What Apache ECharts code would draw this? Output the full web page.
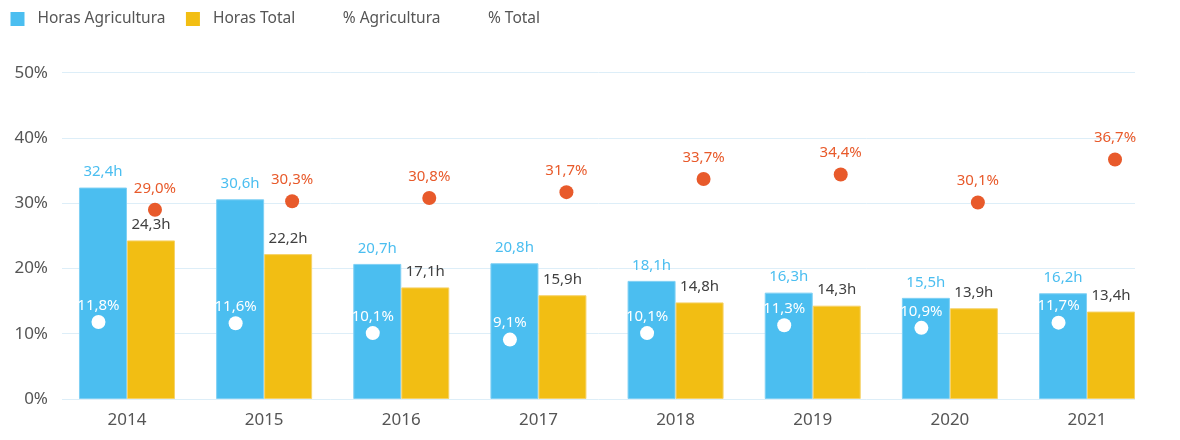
<!DOCTYPE html>
<html>
<head>
<meta charset="utf-8">
<script src="https://cdn.jsdelivr.net/npm/echarts@6/dist/echarts.min.js"></script>
<style>
html,body{margin:0;padding:0;background:#fff;}
#c{width:1180px;height:440px;}
</style>
</head>
<body>
<div id="c"></div>
<script>
const years = ['2014','2015','2016','2017','2018','2019','2020','2021'];
const horasAgricultura = [32.4, 30.6, 20.7, 20.8, 18.1, 16.3, 15.5, 16.2];
const horasTotal = [24.3, 22.2, 17.1, 15.9, 14.8, 14.3, 13.9, 13.4];
const pctAgricultura = [11.8, 11.6, 10.1, 9.1, 10.1, 11.3, 10.9, 11.7];
const pctTotal = [29.0, 30.3, 30.8, 31.7, 33.7, 34.4, 30.1, 36.7];
const yTicks = [0, 10, 20, 30, 40, 50];

const FONT = 'Noto Sans';
const BLUE = '#4BBEF0';
const YELLOW = '#F2BE13';
const ORANGE = '#E85A2B';
const GRIDC = '#DDEEF8';
const fmt1 = v => v.toFixed(1).replace('.', ',');

const chart = echarts.init(document.getElementById('c'), null, {renderer: 'canvas'});
chart.setOption({
  animation: false,
  backgroundColor: '#fff',
  textStyle: {fontFamily: FONT},
  legend: {
    left: 10.5, top: 11, padding: 0,
    itemWidth: 14, itemHeight: 14, itemGap: 20.5,
    itemStyle: {borderWidth: 0},
    textStyle: {fontFamily: FONT, fontSize: 15.5, color: '#555', padding: [0, 0, 0, 8]},
    data: [
      {name: 'Horas Agricultura', icon: 'rect'},
      {name: 'Horas Total', icon: 'rect'},
      {name: '% Agricultura', icon: 'rect', itemStyle: {opacity: 0}},
      {name: '% Total', icon: 'rect', itemStyle: {opacity: 0}}
    ]
  },
  grid: [
    {left: 62, right: 45, top: 72.7, bottom: 41},
    {left: 58.4, right: 24.4, top: 72.7, bottom: 41}
  ],
  xAxis: [
    {gridIndex: 0, type: 'category', data: years, show: false},
    {gridIndex: 1, type: 'category', data: years,
      axisLine: {show: false}, axisTick: {show: false},
      axisLabel: {fontFamily: FONT, fontSize: 17, color: '#555', margin: 13}}
  ],
  yAxis: [
    {gridIndex: 0, type: 'value', min: yTicks[0], max: yTicks[yTicks.length - 1], interval: 10,
      axisLine: {show: false}, axisTick: {show: false},
      splitLine: {show: true, lineStyle: {color: GRIDC, width: 1}},
      axisLabel: {fontFamily: FONT, fontSize: 17, color: '#555', margin: 14, formatter: v => v + '%'}},
    {gridIndex: 1, type: 'value', min: yTicks[0], max: yTicks[yTicks.length - 1], interval: 10, show: false,
      splitLine: {show: false}}
  ],
  series: [
    {name: 'Horas Agricultura', type: 'bar', xAxisIndex: 1, yAxisIndex: 1,
      data: horasAgricultura, barWidth: 48, barGap: '0%',
      itemStyle: {color: BLUE, borderColor: '#7fd0f4', borderWidth: 1},
      label: {show: true, position: 'top', distance: 8, color: BLUE, fontFamily: FONT, fontSize: 15,
        formatter: p => fmt1(p.value) + 'h'}},
    {name: 'Horas Total', type: 'bar', xAxisIndex: 1, yAxisIndex: 1,
      data: horasTotal, barWidth: 48, barGap: '0%',
      itemStyle: {color: YELLOW, borderColor: '#f6d268', borderWidth: 1},
      label: {show: true, position: 'top', distance: 8, color: '#404040', fontFamily: FONT, fontSize: 15,
        formatter: p => fmt1(p.value) + 'h'}},
    {name: '% Agricultura', type: 'scatter', xAxisIndex: 1, yAxisIndex: 1,
      data: pctAgricultura, symbol: 'circle', symbolSize: 14, symbolOffset: [-28.5, 0],
      itemStyle: {color: '#fff', opacity: 1}, z: 5,
      label: {show: true, position: 'top', distance: 2, color: '#fff', fontFamily: FONT, fontSize: 15,
        formatter: p => fmt1(p.value) + '%'}},
    {name: '% Total', type: 'scatter', xAxisIndex: 1, yAxisIndex: 1,
      data: pctTotal, symbol: 'circle', symbolSize: 14, symbolOffset: [28, 0],
      itemStyle: {color: ORANGE, opacity: 1}, z: 5,
      label: {show: true, position: 'top', distance: 7, color: ORANGE, fontFamily: FONT, fontSize: 15,
        formatter: p => fmt1(p.value) + '%'}}
  ]
});
</script>
</body>
</html>
